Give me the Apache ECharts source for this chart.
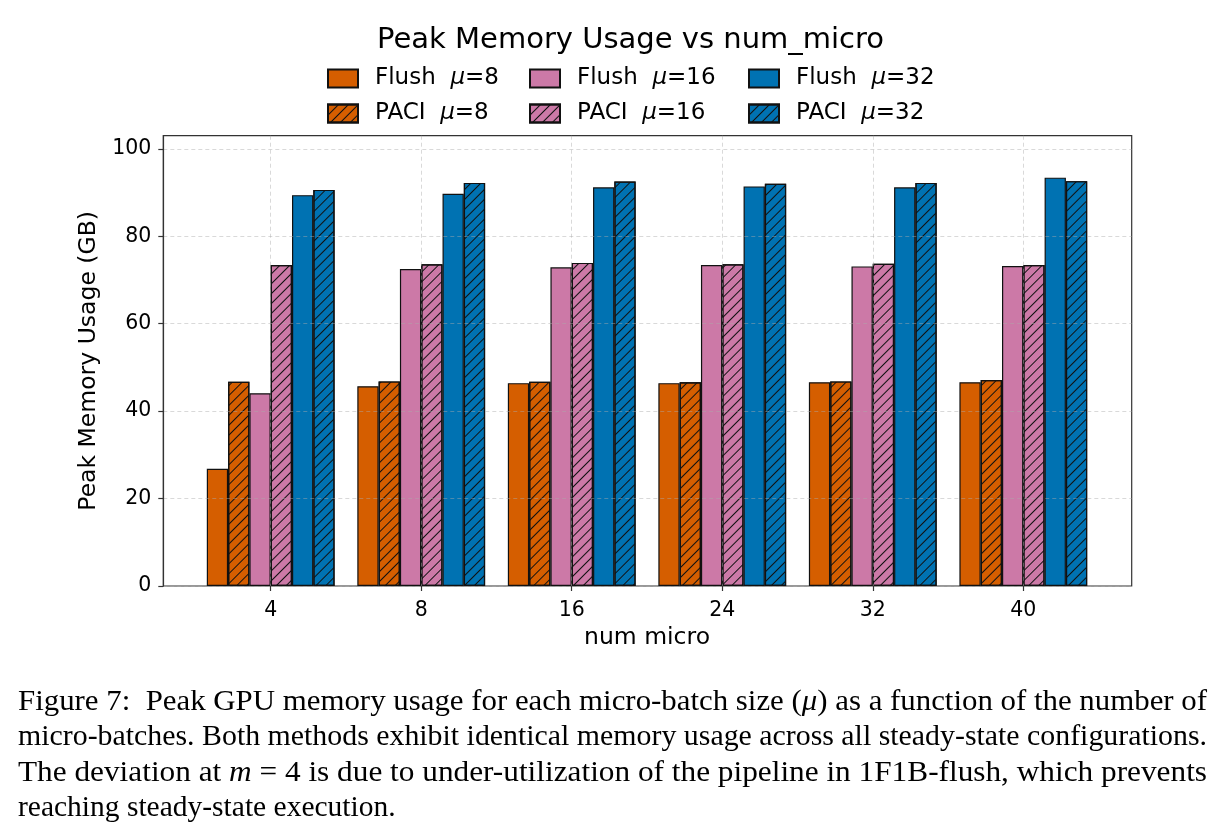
<!DOCTYPE html>
<html>
<head>
<meta charset="utf-8">
<script src="https://cdn.jsdelivr.net/npm/echarts@6/dist/echarts.min.js"></script>
<style>
html, body { margin: 0; padding: 0; background: #fff; }
#chart { width: 1225px; height: 832px; }
</style>
</head>
<body>
<div id="chart"></div>
<script>
// values (GB)
const numMicro = ['4', '8', '16', '24', '32', '40'];
const flushMu8 = [26.8, 45.7, 46.4, 46.4, 46.6, 46.6];
const paciMu8 = [46.7, 46.8, 46.7, 46.6, 46.8, 47.1];
const flushMu16 = [44.1, 72.5, 72.9, 73.4, 73.1, 73.2];
const paciMu16 = [73.4, 73.6, 73.9, 73.6, 73.7, 73.4];
const flushMu32 = [89.4, 89.7, 91.2, 91.4, 91.2, 93.4];
const paciMu32 = [90.6, 92.2, 92.5, 92.0, 92.2, 92.6];
const yTicks = [0, 20, 40, 60, 80, 100];

const seriesNames = ['Flush  μ=8', 'PACI  μ=8', 'Flush  μ=16', 'PACI  μ=16', 'Flush  μ=32', 'PACI  μ=32'];
const seriesData = [flushMu8, paciMu8, flushMu16, paciMu16, flushMu32, paciMu32];
const seriesColors = ['#D55E00', '#D55E00', '#CC79A7', '#CC79A7', '#0072B2', '#0072B2'];

const captionLines = [
    [['n', 'Figure 7:  Peak GPU memory usage for each micro-batch size ('], ['i', 'μ'], ['n', ') as a function of the number of']],
    [['n', 'micro-batches. Both methods exhibit identical memory usage across all steady-state configurations.']],
    [['n', 'The deviation at '], ['i', 'm'], ['n', ' = 4 is due to under-utilization of the pipeline in 1F1B-flush, which prevents']],
    [['n', 'reaching steady-state execution.']]
];

const sans = 'DejaVu Sans';
const serif = 'Liberation Serif';
const capSize = 29.5;

// "///" hatch for the PACI bars
let hatch = {
    symbol: 'rect',
    symbolSize: 1,
    dashArrayX: [1, 0],
    dashArrayY: [1, 6],
    rotation: -Math.PI / 4,
    color: '#111'
};

let gridLine = {color: 'rgba(170,170,170,0.45)', width: 1, type: [4, 3]};

// caption: measure each line so the first three are justified to the text width
let ctx = document.createElement('canvas').getContext('2d');
function lineWidth(segs) {
    let w = 0;
    segs.forEach(function (s) {
        ctx.font = (s[0] === 'i' ? 'italic ' : '') + capSize + 'px "' + serif + '"';
        w += ctx.measureText(s[1]).width;
    });
    return w;
}
let lineY = [702, 737.4, 772.8, 808.2];
let captionGraphics = captionLines.map(function (segs, i) {
    let sx = i < 3 ? 1189 / lineWidth(segs) : 1;
    return {
        type: 'text',
        x: 18,
        y: lineY[i],
        scaleX: sx,
        style: {
            text: segs.map(function (s) { return '{' + s[0] + '|' + s[1] + '}'; }).join(''),
            rich: {
                n: {fontFamily: serif, fontSize: capSize, fill: '#000'},
                i: {fontFamily: serif, fontSize: capSize, fontStyle: 'italic', fill: '#000'}
            },
            verticalAlign: 'middle'
        }
    };
});

// one legend per entry so the three columns line up like the original
let legendLeft = [327, 529, 748];
let legendRowMid = [79, 114];
let legends = seriesNames.map(function (name, i) {
    return {
        data: [name],
        left: legendLeft[Math.floor(i / 2)],
        top: legendRowMid[i % 2] - 12,
        padding: 0,
        itemWidth: 30,
        itemHeight: 18,
        icon: 'rect',
        selectedMode: false,
        formatter: function (n) {
            let parts = n.split('μ');
            return '{n|' + parts[0] + '}{i|μ}{n|' + parts[1] + '}';
        },
        textStyle: {
            padding: [0, 0, 0, 12],
            rich: {
                n: {fontFamily: sans, fontSize: 23, color: '#000'},
                i: {fontFamily: sans, fontSize: 23, fontStyle: 'italic', color: '#000'}
            }
        }
    };
});

let chart = echarts.init(document.getElementById('chart'), null, {renderer: 'canvas'});
chart.setOption({
    animation: false,
    backgroundColor: '#fff',
    title: {
        text: 'Peak Memory Usage vs num_micro',
        left: 377,
        top: 26,
        padding: 0,
        textStyle: {fontFamily: sans, fontSize: 29, fontWeight: 'normal', color: '#000'}
    },
    legend: legends,
    grid: [
        {left: 163.3, right: 93.3, top: 135.7, bottom: 246, show: true, borderColor: '#333', borderWidth: 1.2},
        {left: 270.7, right: 201.7, top: 135.7, bottom: 246}
    ],
    xAxis: [
        {gridIndex: 0, type: 'value', min: 0, max: 1, show: false},
        {
            gridIndex: 1,
            type: 'category',
            data: numMicro,
            boundaryGap: false,
            z: 3,
            axisLine: {show: false},
            axisTick: {show: true, interval: 0, length: 5, lineStyle: {color: '#333', width: 1.2}},
            axisLabel: {interval: 0, fontFamily: sans, fontSize: 20.5, color: '#000', margin: 14},
            splitLine: {show: true, interval: 0, lineStyle: gridLine},
            name: 'num micro',
            nameLocation: 'middle',
            nameGap: 39,
            nameTextStyle: {fontFamily: sans, fontSize: 23.5, color: '#000'}
        }
    ],
    yAxis: [
        {
            gridIndex: 0,
            type: 'value',
            min: 0,
            max: 103,
            z: 3,
            axisLine: {show: true, lineStyle: {color: '#333', width: 1.2}},
            axisTick: {show: true, length: 5, customValues: yTicks, lineStyle: {color: '#333', width: 1.2}},
            axisLabel: {customValues: yTicks, fontFamily: sans, fontSize: 20.5, color: '#000', margin: 12},
            splitLine: {show: true, lineStyle: gridLine},
            name: 'Peak Memory Usage (GB)',
            nameLocation: 'middle',
            nameGap: 52,
            nameRotate: 90,
            nameTextStyle: {fontFamily: sans, fontSize: 23.5, color: '#000'}
        },
        {gridIndex: 1, type: 'value', min: 0, max: 103, show: false}
    ],
    series: seriesNames.map(function (name, i) {
        let style = {
            color: seriesColors[i],
            borderColor: '#111',
            borderWidth: 1.2
        };
        if (i % 2 === 1) {
            style.decal = hatch;
        }
        return {
            name: name,
            type: 'bar',
            xAxisIndex: 1,
            yAxisIndex: 1,
            data: seriesData[i],
            barWidth: 21.3,
            barGap: '0%',
            clip: false,
            itemStyle: style
        };
    }),
    graphic: captionGraphics
});
</script>
</body>
</html>
